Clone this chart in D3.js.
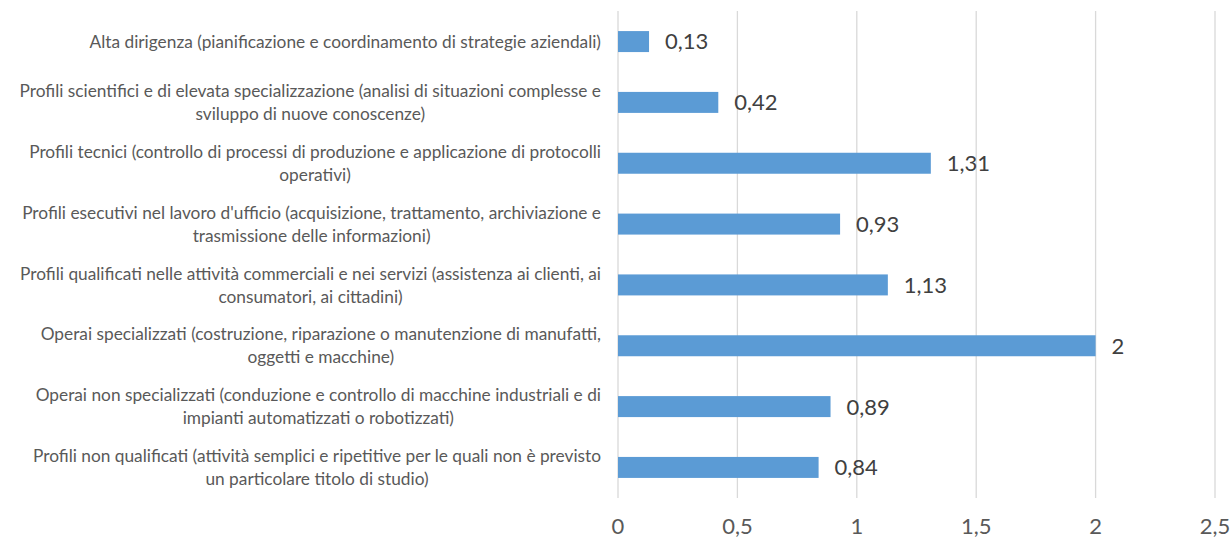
<html>
<head>
<script src="https://d3js.org/d3.v7.min.js"></script>
<style>
  body { margin: 0; background: #fff; }
  text { font-family: Lato, "Open Sans", sans-serif; }
</style>
</head>
<body>
<svg id="chart" width="1232" height="539"></svg>
<script>
// categories, top to bottom, with the line breaks seen in the picture
const categories = [
  ["Alta dirigenza (pianificazione e coordinamento di strategie aziendali)"],
  ["Profili scientifici e di elevata specializzazione (analisi di situazioni complesse e", "sviluppo di nuove conoscenze)"],
  ["Profili tecnici (controllo di processi di produzione e applicazione di protocolli", "operativi)"],
  ["Profili esecutivi nel lavoro d'ufficio (acquisizione, trattamento, archiviazione e", "trasmissione delle informazioni)"],
  ["Profili qualificati nelle attività commerciali e nei servizi (assistenza ai clienti, ai", "consumatori, ai cittadini)"],
  ["Operai specializzati (costruzione, riparazione o manutenzione di manufatti,", "oggetti e macchine)"],
  ["Operai non specializzati (conduzione e controllo di macchine industriali e di", "impianti automatizzati o robotizzati)"],
  ["Profili non qualificati (attività semplici e ripetitive per le quali non è previsto", "un particolare titolo di studio)"]
];
const values = [0.13, 0.42, 1.31, 0.93, 1.13, 2, 0.89, 0.84];
const xTicks = [0, 0.5, 1, 1.5, 2, 2.5];

const fmt = d => String(d).replace(".", ",");

const svg = d3.select("#chart");
const plotLeft = 618, plotRight = 1215, plotTop = 11, plotBottom = 498;

const x = d3.scaleLinear().domain([0, 2.5]).range([plotLeft, plotRight]);
const y = d3.scaleBand().domain(d3.range(categories.length)).range([plotTop, plotBottom]).paddingInner(0.655).paddingOuter(0.33);

// gridlines
svg.append("g")
  .selectAll("line")
  .data(xTicks)
  .enter().append("line")
    .attr("x1", d => x(d)).attr("x2", d => x(d))
    .attr("y1", plotTop).attr("y2", plotBottom)
    .attr("stroke", "#d9d9d9")
    .attr("stroke-width", 1.3);

// bars
svg.append("g")
  .selectAll("rect")
  .data(values)
  .enter().append("rect")
    .attr("x", x(0))
    .attr("y", (d, i) => y(i))
    .attr("width", d => x(d) - x(0))
    .attr("height", y.bandwidth())
    .attr("fill", "#5b9bd5");

// value labels
svg.append("g")
  .selectAll("text")
  .data(values)
  .enter().append("text")
    .attr("x", d => x(d) + 16)
    .attr("y", (d, i) => y(i) + y.bandwidth() / 2)
    .attr("dy", "0.36em")
    .attr("fill", "#404040")
    .style("font-size", "22px")
    .text(fmt);

// x tick labels
svg.append("g")
  .selectAll("text")
  .data(xTicks)
  .enter().append("text")
    .attr("x", d => x(d))
    .attr("y", 526)
    .attr("dy", "0.36em")
    .attr("text-anchor", "middle")
    .attr("fill", "#595959")
    .style("font-size", "22px")
    .text(fmt);

// category labels: block right-aligned, lines centred on each other
const labelRight = 601, lineH = 23;
const lab = svg.append("g").selectAll("g")
  .data(categories)
  .enter().append("g");

lab.each(function(lines, i) {
  const g = d3.select(this);
  const cy = y(i) + y.bandwidth() / 2;
  const texts = g.selectAll("text")
    .data(lines)
    .enter().append("text")
      .attr("y", (d, j) => cy + (j - (lines.length - 1) / 2) * lineH)
      .attr("dy", "0.36em")
      .attr("text-anchor", "middle")
      .attr("fill", "#595959")
      .style("font-size", "17.3px")
      .text(d => d);
  let maxW = 0;
  texts.each(function() { maxW = Math.max(maxW, this.getComputedTextLength()); });
  texts.attr("x", labelRight - maxW / 2);
});
</script>
</body>
</html>
